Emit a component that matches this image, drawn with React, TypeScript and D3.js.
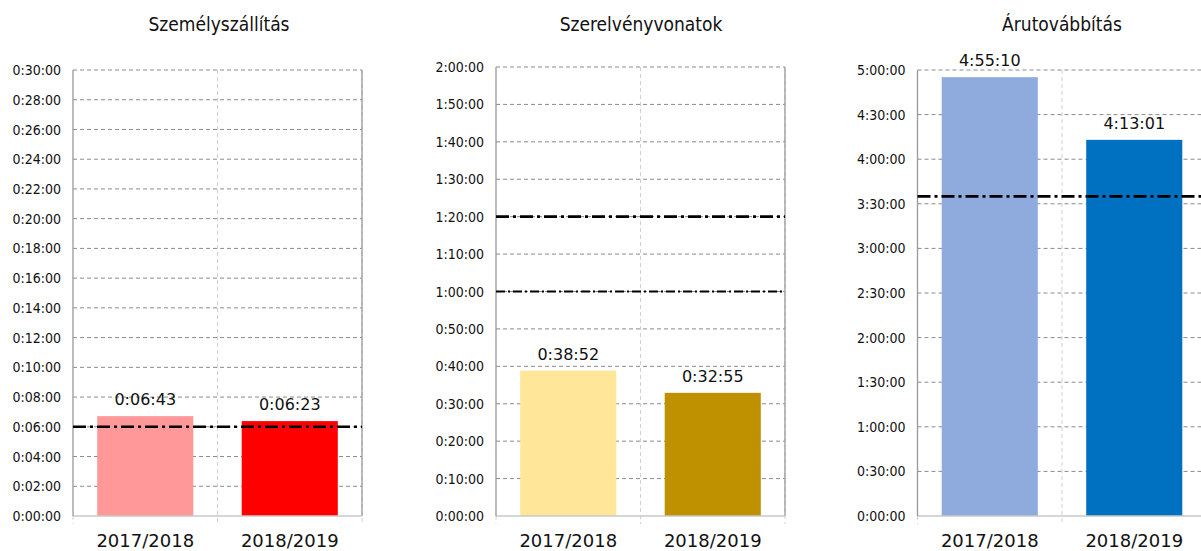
import React from "react";
import * as d3 from "d3";

const categories = ["2017/2018", "2018/2019"];
const titles = ["Személyszállítás", "Szerelvényvonatok", "Árutovábbítás"];
// values in seconds
const passengerValues = [6 * 60 + 43, 6 * 60 + 23];
const trainsetValues = [38 * 60 + 52, 32 * 60 + 55];
const freightValues = [4 * 3600 + 55 * 60 + 10, 4 * 3600 + 13 * 60 + 1];
const passengerColors = ["#FF9999", "#FF0000"];
const trainsetColors = ["#FFE699", "#BF9000"];
const freightColors = ["#8FAADC", "#0070C0"];
// reference lines (seconds)
const passengerTargets = [6 * 60];
const trainsetTargets = [80 * 60, 60 * 60];
const freightTargets = [3 * 3600 + 35 * 60];
// axis max and tick step (seconds)
const passengerAxis = [30 * 60, 2 * 60];
const trainsetAxis = [120 * 60, 10 * 60];
const freightAxis = [5 * 3600, 30 * 60];

function fmt(s: number) {
  const h = Math.floor(s / 3600);
  const m = Math.floor((s % 3600) / 60);
  const sec = Math.round(s % 60);
  return `${h}:${String(m).padStart(2, "0")}:${String(sec).padStart(2, "0")}`;
}

const FONT = "DejaVu Sans, Verdana, sans-serif";
const FONT_C = "DejaVu Sans Condensed, DejaVu Sans, sans-serif";

type Panel = {
  title: string;
  values: number[];
  colors: string[];
  targets: number[];
  axis: number[];
  left: number;
  top: number;
  bottom: number;
  titleX: number;
};

const lineStyles = [
  { w: 2.6, dash: "13 4 3 4" },
  { w: 1.8, dash: "9 3 2 3" },
];

function ChartPanel({ p }: { p: Panel }) {
  const bandW = 144.5;
  const x = d3
    .scaleBand<string>()
    .domain(categories)
    .range([p.left, p.left + bandW * 2])
    .paddingInner(0.335)
    .paddingOuter(0.1675);
  const y = d3.scaleLinear().domain([0, p.axis[0]]).range([p.bottom, p.top]);
  const ticks = d3.range(0, p.axis[0] + 1, p.axis[1]);
  const right = p.left + bandW * 2;
  const vlines = [p.left, p.left + bandW, right];
  return (
    <g>
      <text
        x={p.titleX}
        y={31}
        textAnchor="middle"
        fontFamily={FONT_C}
        fontSize={19}
        fill="#111"
      >
        {p.title}
      </text>
      {ticks.map((t) => (
        <g key={t}>
          {t > 0 && (
            <line
              x1={p.left}
              x2={right}
              y1={y(t)}
              y2={y(t)}
              stroke="#8a8a8a"
              strokeDasharray="4 3"
              strokeWidth={1}
            />
          )}
          <text
            x={p.left - 12}
            y={y(t)}
            dy="0.36em"
            textAnchor="end"
            fontFamily={FONT_C}
            fontSize={14}
            fill="#111"
          >
            {fmt(t)}
          </text>
        </g>
      ))}
      {vlines.slice(1).map((vx, i) => (
        <line
          key={i}
          x1={vx}
          x2={vx}
          y1={p.top}
          y2={p.bottom + 8}
          stroke="#d0d0d0"
          strokeDasharray="4 3"
        />
      ))}
      <line x1={p.left} x2={p.left} y1={p.bottom} y2={p.bottom + 8} stroke="#d0d0d0" strokeDasharray="4 3" />
      <line x1={right} x2={right} y1={p.top} y2={p.bottom} stroke="#999" strokeWidth={1.3} />
      {categories.map((c, i) => (
        <rect
          key={c}
          x={x(c)}
          y={y(p.values[i])}
          width={x.bandwidth()}
          height={p.bottom - y(p.values[i])}
          fill={p.colors[i]}
        />
      ))}
      <line x1={p.left} x2={right} y1={p.bottom} y2={p.bottom} stroke="#c8c8c8" strokeWidth={1.3} />
      <line x1={p.left} x2={p.left} y1={p.top} y2={p.bottom} stroke="#999" strokeWidth={1.3} />
      {p.targets.map((t, i) => (
        <line
          key={i}
          x1={p.left}
          x2={right}
          y1={y(t)}
          y2={y(t)}
          stroke="#000"
          strokeWidth={lineStyles[i].w}
          strokeDasharray={lineStyles[i].dash}
        />
      ))}
      {categories.map((c, i) => (
        <text
          key={c}
          x={(x(c) as number) + x.bandwidth() / 2}
          y={y(p.values[i]) - 11}
          textAnchor="middle"
          fontFamily={FONT}
          fontSize={16}
          fill="#111"
        >
          {fmt(p.values[i])}
        </text>
      ))}
      {categories.map((c) => (
        <text
          key={c}
          x={(x(c) as number) + x.bandwidth() / 2}
          y={547}
          textAnchor="middle"
          fontFamily={FONT}
          fontSize={18}
          fill="#111"
        >
          {c}
        </text>
      ))}
    </g>
  );
}

export default function App() {
  const panels: Panel[] = [
    { title: titles[0], values: passengerValues, colors: passengerColors, targets: passengerTargets, axis: passengerAxis, left: 73, top: 70, bottom: 516, titleX: 219 },
    { title: titles[1], values: trainsetValues, colors: trainsetColors, targets: trainsetTargets, axis: trainsetAxis, left: 496, top: 67, bottom: 516, titleX: 641 },
    { title: titles[2], values: freightValues, colors: freightColors, targets: freightTargets, axis: freightAxis, left: 917.5, top: 70, bottom: 516, titleX: 1062 },
  ];
  return (
    <svg
      width={1201}
      height={551}
      style={{ position: "absolute", left: 0, top: 0, background: "#fff" }}
    >
      <rect width={1201} height={551} fill="#fff" />
      {panels.map((p, i) => (
        <ChartPanel key={i} p={p} />
      ))}
    </svg>
  );
}
